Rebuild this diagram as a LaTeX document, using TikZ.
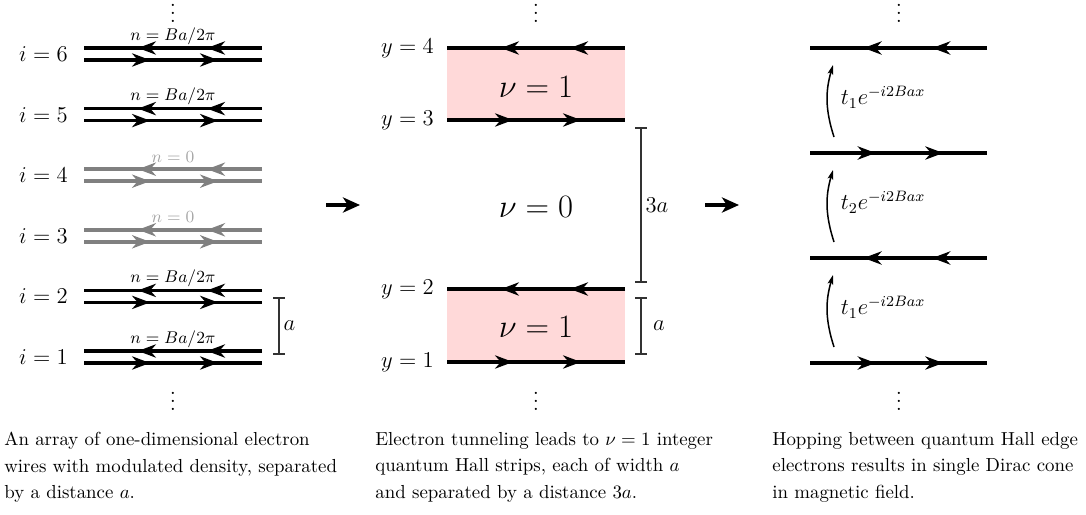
\documentclass[tikz,border=0pt]{standalone}
\usepackage{amsmath}
\usepackage{xcolor}
\usetikzlibrary{arrows.meta, decorations.markings, positioning, calc}
\definecolor{strip}{RGB}{255,217,217}
\definecolor{barcol}{RGB}{50,50,50}
\newcommand{\tightvdots}{\vbox{\baselineskip4.2pt\lineskiplimit0pt\hbox{.}\hbox{.}\hbox{.}}}

\begin{document}
\begin{tikzpicture}[x=0.53pt, y=-0.53pt,
  barb/.tip={Stealth[length=9.5pt, width=7pt, inset=3pt]},
  wire/.style={line width=2pt},
  moveR/.style={wire, postaction={decorate}, decoration={markings,
    mark=at position 0.371 with {\arrow{barb}},
    mark=at position 0.753 with {\arrow{barb}}}},
  moveL/.style={wire, postaction={decorate}, decoration={markings,
    mark=at position 0.309 with {\arrow{barb}},
    mark=at position 0.697 with {\arrow{barb}}}},
  lbl/.style={font=\large, inner sep=0pt},
  dots/.style={anchor=south, inner sep=0pt, font=\large},
  bar/.style={draw=barcol, line width=0.8pt, {Bar[width=6pt]}-{Bar[width=6pt]}},
  hop/.style={line width=0.8pt, -{Stealth[length=5pt, width=3pt, inset=1pt]}},
  stepArrow/.style={line width=2.6pt, -{Stealth[length=9pt, width=8pt, inset=2.5pt]}},
  captxt/.style={anchor=north west, inner sep=0pt, align=left,
    font=\fontsize{10}{14}\selectfont}]
  \useasboundingbox (0,0) rectangle (1086,515);

  % array of wires
  \foreach \k/\c in {1/black,2/black,3/gray,4/gray,5/black,6/black} {
    \pgfmathsetmacro\yt{48+60.6*(6-\k)}
    \coordinate (wL\k) at (84,\yt);
    \coordinate (wR\k) at (262,\yt);
    \draw[moveL, draw=\c, fill=\c] (wR\k) -- (wL\k);
    \draw[moveR, draw=\c, fill=\c] ([yshift=-12*0.53pt]wL\k) -- ([yshift=-12*0.53pt]wR\k);
    \node[lbl, anchor=east] (i\k) at (68,\yt+6) {$i=\k$};
  }
  \foreach \k in {1,2,5,6}
    \node[font=\small, inner sep=0pt, anchor=base] (n\k) at ([yshift=8*0.53pt]$(wL\k)!0.5!(wR\k)$) {$n=Ba/2\pi$};
  \foreach \k in {3,4}
    \node[font=\small, text=black!35, inner sep=0pt, anchor=base] (n\k) at ([yshift=7*0.53pt]$(wL\k)!0.5!(wR\k)$) {$n=0$};
  \coordinate (aL1) at (279,297);
  \coordinate (aL2) at (279,355);
  \draw[bar] (aL1) -- (aL2) node[midway, right=2pt, lbl] (aL) {$a$};
  \node[dots] (dotsA1) at (173,23) {\tightvdots};
  \node[dots] (dotsA2) at (173,411) {\tightvdots};

  % quantum Hall strips
  \fill[strip] (447,48) rectangle (625,120);
  \fill[strip] (447,289) rectangle (625,362);
  \foreach \k/\yy in {4/48,3/120,2/289,1/362} {
    \coordinate (sL\k) at (447,\yy);
    \coordinate (sR\k) at (625,\yy);
    \node[lbl, anchor=east] (y\k) at (434,\yy) {$y=\k$};
  }
  \draw[moveL] (sR4) -- (sL4);
  \draw[moveR] (sL3) -- (sR3);
  \draw[moveL] (sR2) -- (sL2);
  \draw[moveR] (sL1) -- (sR1);
  \node[font=\LARGE] (nuA) at (536,87) {$\nu=1$};
  \node[font=\LARGE] (nuB) at (536,207) {$\nu=0$};
  \node[font=\LARGE] (nuC) at (536,327) {$\nu=1$};
  \coordinate (bM1) at (641,127);
  \coordinate (bM2) at (641,283);
  \coordinate (bM3) at (641,297);
  \coordinate (bM4) at (641,355);
  \draw[bar] (bM1) -- (bM2) node[midway, right=2pt, lbl] (b3a) {$3a$};
  \draw[bar] (bM3) -- (bM4) node[midway, right=6pt, lbl] (ba) {$a$};
  \node[dots] (dotsB1) at (536,23) {\tightvdots};
  \node[dots] (dotsB2) at (536,411) {\tightvdots};

  % hopping between edges
  \foreach \k/\yy in {4/48,3/153,2/258,1/363} {
    \coordinate (hL\k) at (810,\yy);
    \coordinate (hR\k) at (987,\yy);
  }
  \draw[moveL] (hR4) -- (hL4);
  \draw[moveR] (hL3) -- (hR3);
  \draw[moveL] (hR2) -- (hL2);
  \draw[moveR] (hL1) -- (hR1);
  \foreach \lo/\hi/\t in {3/4/1,2/3/2,1/2/1} {
    \coordinate (p\lo) at ([xshift=24*0.53pt, yshift=16*0.53pt]hL\lo);
    \coordinate (q\lo) at ([xshift=23*0.53pt, yshift=-17*0.53pt]hL\hi);
    \draw[hop] (p\lo) to[bend left=17] (q\lo);
    \node[lbl, anchor=west] (t\lo) at ([xshift=7*0.53pt]$(p\lo)!0.55!(q\lo)$) {$t_\t e^{-i2Bax}$};
  }
  \node[dots] (dotsC1) at (899,23) {\tightvdots};
  \node[dots] (dotsC2) at (899,411) {\tightvdots};

  % steps
  \coordinate (s1a) at (326,205);
  \coordinate (s1b) at (360,205);
  \coordinate (s2a) at (705,205);
  \coordinate (s2b) at (739,205);
  \draw[stepArrow] (s1a) -- (s1b);
  \draw[stepArrow] (s2a) -- (s2b);

  % captions
  \node[captxt] (capA) at (4,432) {An array of one-dimensional electron\\
    wires with modulated density, separated\\ by a distance $a$.};
  \node[captxt] (capB) at (375,432) {Electron tunneling leads to $\nu=1$ integer\\
    quantum Hall strips, each of width $a$\\ and separated by a distance $3a$.};
  \node[captxt] (capC) at (772,432) {Hopping between quantum Hall edge\\
    electrons results in single Dirac cone\\ in magnetic field.};
\end{tikzpicture}
\end{document}
